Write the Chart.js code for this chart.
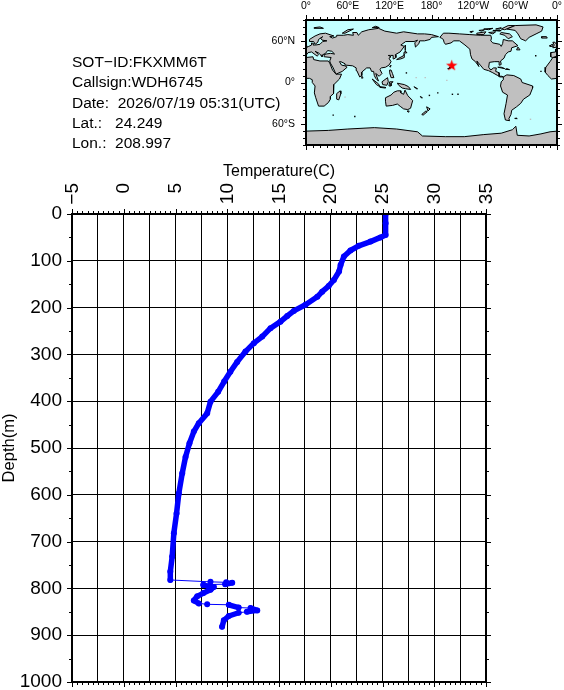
<!DOCTYPE html>
<html>
<head>
<meta charset="utf-8">
<title>Temperature profile</title>
<script src="https://cdn.jsdelivr.net/npm/chart.js@4/dist/chart.umd.min.js"></script>
<style>
  html, body { margin: 0; padding: 0; background: #fff; }
  #page { position: relative; width: 564px; height: 690px; overflow: hidden; }
  canvas { position: absolute; display: block; }
  #station { position: absolute; left: 72px; top: 52px; font: 15.5px/20.3px "Liberation Sans", sans-serif; color: #000; white-space: pre; }
</style>
</head>
<body>
<div id="page">
  <canvas id="profile" width="564" height="690" style="left:0;top:0"></canvas>
  <canvas id="map" width="300" height="160" style="left:264px;top:0"></canvas>
  <div id="station"></div>
</div>
<script>
const stationLines = [
  'SOT\u2212ID:FKXMM6T',
  'Callsign:WDH6745',
  'Date:  2026/07/19 05:31(UTC)',
  'Lat.:   24.249',
  'Lon.:  208.997'
];

// temperature profile, read top to bottom
const depthM = [0, 20, 45, 50, 59, 68, 78, 91, 109, 123, 141, 154, 166, 177, 194, 207, 218, 230, 244, 262, 276, 294, 316, 337, 358, 380, 401, 426, 447, 465, 490, 519, 554, 597, 640, 682, 732, 764, 782, 786, 787, 788, 791, 792, 793, 797, 803, 810, 817, 826, 832, 834, 835, 841, 842, 847, 850, 852, 859, 868, 882];
const temperatureC = [25.3, 25.3, 25.3, 24.8, 23.84, 22.7, 21.9, 21.27, 20.95, 20.8, 20.3, 19.8, 19.17, 18.7, 17.56, 16.43, 15.8, 15.14, 14.18, 13.38, 12.57, 11.76, 10.96, 10.3, 9.7, 9.12, 8.38, 8.06, 7.25, 6.77, 6.35, 5.97, 5.65, 5.32, 5.1, 4.84, 4.68, 4.5, 4.5, 8.38, 9.9, 10.48, 9.8, 7.7, 7.7, 8.7, 8.38, 7.7, 7.1, 6.77, 7.25, 8.06, 10.15, 11.1, 12.25, 12.9, 11.9, 11.1, 10.15, 9.67, 9.5];

const floatLon = [208.997];
const floatLat = [24.249];

// coastlines as [lon, lat], longitude running 0-360
const eurasia = [[0,50],[4,52],[8,54],[8,57],[11,56],[10,54],[14,54],[20,55],[24,59],[30,60],[23,61],[21,64],[24,66],[18,62],[17,58],[13,55],[11,59],[5,59],[5,62],[13,67],[20,70],[28,71],[40,67],[34,66],[38,64],[44,66],[44,68],[54,68],[60,69],[68,68],[67,72],[73,72],[75,68],[80,73],[90,76],[104,78],[113,74],[130,71],[140,73],[160,70],[170,70],[180,69],[190,66],[180,65],[178,62],[170,60],[163,60],[162,56],[157,51],[156,57],[160,61],[155,59],[143,59],[136,54],[141,52],[135,44],[128,40],[129,36],[126,34],[125,39],[121,39],[118,39],[122,37],[119,35],[122,30],[119,25],[114,22],[108,21],[106,19],[109,13],[105,9],[100,13],[104,2],[100,6],[98,10],[97,16],[94,16],[92,21],[87,21],[80,15],[80,10],[77,8],[73,17],[72,21],[67,24],[57,25],[56,27],[50,30],[48,30],[51,25],[56,24],[59,22],[52,16],[43,12],[39,21],[35,28],[34,31],[36,36],[27,37],[26,40],[29,41],[35,42],[41,41],[37,45],[31,46],[28,42],[24,40],[23,37],[19,42],[13,45],[18,40],[16,38],[8,44],[3,43],[0,39]];
const iberia = [[360,50],[358,48],[358,44],[351,43],[351,37],[354,36],[360,38]];
const africaEast = [[0,36],[10,37],[11,33],[20,31],[32,31],[34,28],[38,18],[43,12],[51,12],[48,5],[40,-3],[39,-10],[40,-16],[35,-20],[35,-24],[32,-29],[26,-34],[18,-34],[14,-22],[12,-15],[13,-5],[9,0],[9,4],[5,6],[0,6]];
const africaWest = [[360,36],[354,36],[350,30],[344,22],[343,15],[347,10],[352,5],[360,6]];
const northAmerica = [[192,65],[197,71],[205,71],[220,70],[235,69],[250,68],[265,68],[266,64],[265,60],[268,57],[278,55],[280,52],[282,56],[283,62],[290,60],[296,60],[304,53],[295,50],[294,45],[290,44],[286,40],[284,35],[279,31],[280,26],[278,25],[277,30],[270,30],[263,29],[262,22],[265,18],[269,21],[273,21],[272,16],[277,14],[277,9],[281,9],[283,8],[278,8],[275,10],[268,14],[262,17],[255,19],[250,25],[245,31],[248,23],[243,30],[238,34],[236,40],[235,48],[228,54],[220,60],[212,60],[208,57],[200,55],[198,58],[197,62],[194,64]];
const southAmerica = [[283,8],[288,11],[298,10],[308,5],[310,0],[325,-5],[325,-8],[321,-18],[312,-24],[308,-30],[302,-35],[295,-40],[294,-46],[291,-52],[292,-55],[286,-54],[284,-45],[287,-30],[289,-18],[282,-14],[279,-5],[280,1],[283,4]];
const greenland = [[288,77],[300,82],[330,83],[340,80],[338,74],[330,70],[320,65],[315,60],[308,63],[304,70],[300,75]];
const australia = [[114,-22],[122,-18],[126,-14],[131,-12],[136,-12],[136,-15],[140,-17],[142,-11],[146,-19],[153,-26],[150,-37],[146,-39],[140,-38],[136,-35],[131,-31],[124,-33],[115,-34],[114,-27]];
const antarctica = [[0,-70],[32,-69],[60,-67],[98,-65],[130,-67],[160,-71],[167,-77],[200,-78],[227,-78],[255,-75],[280,-73],[296,-68],[301,-63],[303,-76],[320,-77],[337,-74],[350,-71],[360,-70],[360,-90],[0,-90]];
const islands = [
  [[354,50],[360,51],[360,54],[357,58],[354,58],[356,54],[355,52]],
  [[0,51],[2,52],[0,54]],
  [[350,52],[354,52],[354,55],[351,54]],
  [[338,64],[346,64],[345,66],[338,66]],
  [[12,78],[25,78],[20,80],[12,79]],
  [[52,71],[56,71],[68,77],[60,76]],
  [[95,79],[105,79],[100,81]],
  [[44,-16],[49,-12],[50,-16],[47,-25],[44,-24]],
  [[80,9],[82,7],[80,6]],
  [[130,33],[136,34],[141,36],[141,41],[139,38],[133,35]],
  [[140,42],[145,43],[142,45]],
  [[142,46],[143,50],[142,54]],
  [[120,23],[122,25],[121,22]],
  [[120,18],[122,18],[124,13],[126,7],[122,7],[120,14]],
  [[109,1],[117,7],[118,1],[116,-4],[110,-3]],
  [[95,5],[104,-2],[106,-6],[101,-3]],
  [[106,-6],[114,-7],[114,-8],[106,-7]],
  [[120,1],[125,1],[122,-1],[122,-5],[119,-5]],
  [[131,-1],[141,-3],[147,-6],[150,-10],[143,-9],[138,-8],[133,-4]],
  [[145,-41],[148,-41],[147,-43]],
  [[173,-35],[178,-38],[175,-41],[174,-38]],
  [[172,-41],[174,-42],[168,-47],[166,-46]],
  [[155,-6],[160,-9],[158,-9]],
  [[164,-20],[167,-22],[165,-22]],
  [[280,72],[292,70],[296,66],[290,63],[285,68],[278,70]],
  [[245,71],[258,73],[255,69],[245,69]],
  [[280,77],[290,82],[300,82],[285,76]],
  [[235,73],[240,74],[238,72]],
  [[268,75],[280,75],[278,74]],
  [[255,77],[268,78],[262,76]],
  [[262,72],[272,73],[268,70]],
  [[248,75],[256,76],[252,74]],
  [[272,77],[280,79],[278,77]],
  [[302,47],[307,47],[304,51]],
  [[275,22],[285,20],[280,22]],
  [[286,19],[292,18.5],[288,20]],
  [[300,-52],[303,-52],[301,-51]]
];
const lakes = [
  [[47,45],[53,45],[54,38],[50,37],[49,41]],
  [[272,42],[276,46],[280,44],[278,42],[274,44]]
];

// tiny atolls drawn as single dots
const blackIslets = [[144,13.8],[177,-18.6],[189,-15],[210,-17],[218,-17],[39,-47],[70,-49],[204,20],[329.5,38.6],[337,16],[206,21]];
const grayIslets = [[158,7],[171,7],[202,3],[56,-21],[322,-53]];

const xTickValues = [-5, 0, 5, 10, 15, 20, 25, 30, 35];
const lonLabels = { 0: '0\u00b0', 60: '60\u00b0E', 120: '120\u00b0E', 180: '180\u00b0', 240: '120\u00b0W', 300: '60\u00b0W', 360: '0\u00b0' };
const latLabels = { 60: '60\u00b0N', 0: '0\u00b0', '-60': '60\u00b0S' };

const FONT = '"Liberation Sans", Arial, sans-serif';
document.getElementById('station').textContent = stationLines.join('\n');

const multipleOf = (v, step) => Math.abs(v / step - Math.round(v / step)) < 1e-6;

// labels hanging over the plot edges should not shrink the plot
const noOverhang = s => {
  s.paddingLeft = s.paddingRight = s.paddingTop = s.paddingBottom = 0;
};

// GMT style frame: outward ticks on all four sides plus a heavy border
const frameTicks = {
  id: 'frameTicks',
  afterDraw(chart, args, opts) {
    const { ctx, chartArea: a, scales } = chart;
    ctx.save();
    ctx.strokeStyle = '#000';
    ctx.lineWidth = 1;
    ctx.beginPath();
    scales.x.ticks.forEach(t => {
      const px = Math.round(scales.x.getPixelForValue(t.value)) + 0.5;
      const len = multipleOf(t.value, opts.xMajor) ? opts.majorLen : opts.minorLen;
      ctx.moveTo(px, a.top); ctx.lineTo(px, a.top - len);
      ctx.moveTo(px, a.bottom); ctx.lineTo(px, a.bottom + len);
    });
    scales.y.ticks.forEach(t => {
      const py = Math.round(scales.y.getPixelForValue(t.value)) + 0.5;
      const len = multipleOf(t.value, opts.yMajor) ? opts.majorLen : opts.minorLen;
      ctx.moveTo(a.left, py); ctx.lineTo(a.left - len, py);
      ctx.moveTo(a.right, py); ctx.lineTo(a.right + len, py);
    });
    ctx.stroke();
    ctx.lineWidth = opts.frameWidth;
    ctx.strokeRect(a.left, a.top, a.right - a.left, a.bottom - a.top);
    ctx.restore();
  }
};

// top labels read upward and line up on their far end
const rotatedTopLabels = {
  id: 'rotatedTopLabels',
  afterDraw(chart) {
    const { ctx, scales } = chart;
    ctx.save();
    ctx.font = '19px ' + FONT;
    ctx.fillStyle = '#000';
    ctx.textAlign = 'right';
    ctx.textBaseline = 'middle';
    xTickValues.forEach(v => {
      ctx.save();
      ctx.translate(scales.x.getPixelForValue(v) + 0.5, 183);
      ctx.rotate(-Math.PI / 2);
      ctx.fillText(String(v).replace('-', '\u2212'), 0, 0);
      ctx.restore();
    });
    ctx.restore();
  }
};

new Chart(document.getElementById('profile'), {
  type: 'scatter',
  data: {
    datasets: [{
      data: depthM.map((d, i) => ({ x: temperatureC[i], y: d })),
      showLine: true,
      borderColor: '#0000ff',
      backgroundColor: '#0000ff',
      borderWidth: 5.5,
      borderJoinStyle: 'round',
      borderCapStyle: 'round',
      pointRadius: 3,
      pointBorderWidth: 0,
      pointHoverRadius: 3,
      tension: 0,
      segment: {
        // the jumps near the bottom show only as hairlines
        borderWidth: c => Math.abs(c.p1.parsed.x - c.p0.parsed.x) / Math.max(Math.abs(c.p1.parsed.y - c.p0.parsed.y), 0.01) > 0.4 ? 1 : 5.5
      }
    }]
  },
  plugins: [frameTicks, rotatedTopLabels],
  options: {
    responsive: false,
    animation: false,
    layout: { padding: { right: 78, bottom: 8 } },
    plugins: {
      legend: { display: false },
      tooltip: { enabled: false },
      frameTicks: { xMajor: 5, yMajor: 100, majorLen: 5, minorLen: 3, frameWidth: 2 }
    },
    scales: {
      x: {
        type: 'linear',
        position: 'top',
        min: -5,
        max: 35,
        afterFit: s => { s.height = 214; noOverhang(s); },
        ticks: { stepSize: 0.5, display: false, autoSkip: false },
        grid: {
          drawTicks: false,
          lineWidth: 1,
          color: c => multipleOf(c.tick.value, 2.5) ? '#000' : 'rgba(0,0,0,0)'
        },
        border: { display: false },
        title: { display: true, text: 'Temperature(C)', color: '#000', font: { family: FONT, size: 16 }, padding: { top: 162, bottom: 0 } }
      },
      y: {
        type: 'linear',
        reverse: true,
        min: 0,
        max: 1000,
        afterFit: s => { s.width = 72; noOverhang(s); },
        ticks: {
          stepSize: 50,
          autoSkip: false,
          padding: 10,
          color: '#000',
          font: { family: FONT, size: 19 },
          callback: v => multipleOf(v, 100) ? String(v) : ''
        },
        grid: {
          drawTicks: false,
          lineWidth: 1,
          color: c => multipleOf(c.tick.value, 100) ? '#000' : 'rgba(0,0,0,0)'
        },
        border: { display: false },
        title: { display: true, text: 'Depth(m)', color: '#000', font: { family: FONT, size: 16.5 }, padding: 0 }
      }
    }
  }
});

// red star marker
const starIcon = document.createElement('canvas');
starIcon.width = starIcon.height = 13;
(function () {
  const s = starIcon.getContext('2d');
  s.fillStyle = '#ff0000';
  s.beginPath();
  for (let i = 0; i < 10; i++) {
    const r = i % 2 ? 2.4 : 6;
    const a = -Math.PI / 2 + i * Math.PI / 5;
    s.lineTo(6.5 + r * Math.cos(a), 6.5 + r * Math.sin(a));
  }
  s.closePath();
  s.fill();
})();

const shape = (coords, fillColor) => ({
  data: coords.concat([coords[0]]).map(c => ({ x: c[0], y: c[1] })),
  showLine: true,
  fill: 'shape',
  backgroundColor: fillColor,
  borderColor: '#000',
  borderWidth: 1,
  pointRadius: 0,
  tension: 0
});
const dots = (coords, color) => ({
  data: coords.map(c => ({ x: c[0], y: c[1] })),
  showLine: false,
  pointStyle: 'rect',
  pointRadius: 1,
  backgroundColor: color,
  borderWidth: 0
});

const LAND = '#c0c0c0';
const SEA = '#c4ffff';
const mapBackdrop = {
  id: 'mapBackdrop',
  beforeDatasetsDraw(chart) {
    const { ctx, chartArea: a } = chart;
    ctx.save();
    ctx.fillStyle = SEA;
    ctx.fillRect(a.left, a.top, a.right - a.left, a.bottom - a.top);
    ctx.restore();
  }
};

new Chart(document.getElementById('map'), {
  type: 'scatter',
  data: {
    datasets: [
      ...[eurasia, iberia, africaEast, africaWest, northAmerica, southAmerica, greenland, australia, antarctica, ...islands].map(c => shape(c, LAND)),
      ...lakes.map(c => shape(c, SEA)),
      dots(blackIslets, '#000'),
      dots(grayIslets, LAND),
      {
        data: floatLon.map((lon, i) => ({ x: lon, y: floatLat[i] })),
        showLine: false,
        pointStyle: starIcon,
        pointRadius: 6
      }
    ]
  },
  plugins: [mapBackdrop, frameTicks],
  options: {
    responsive: false,
    animation: false,
    layout: { padding: { right: 6, bottom: 15 } },
    plugins: {
      legend: { display: false },
      tooltip: { enabled: false },
      frameTicks: { xMajor: 60, yMajor: 60, majorLen: 5, minorLen: 3, frameWidth: 2 }
    },
    scales: {
      x: {
        type: 'linear',
        position: 'top',
        min: 0,
        max: 360,
        afterFit: s => { s.height = 20; noOverhang(s); },
        ticks: {
          stepSize: 10,
          autoSkip: false,
          maxRotation: 0,
          padding: 0,
          color: '#000',
          font: { family: FONT, size: 10.5 },
          callback: v => lonLabels[v] || ''
        },
        grid: { display: false },
        border: { display: false }
      },
      y: {
        type: 'linear',
        min: -90,
        max: 90,
        afterFit: s => { s.width = 42; noOverhang(s); },
        ticks: {
          stepSize: 10,
          autoSkip: false,
          padding: 3,
          color: '#000',
          font: { family: FONT, size: 10.5 },
          callback: v => latLabels[v] || ''
        },
        grid: { display: false },
        border: { display: false }
      }
    }
  }
});
</script>
</body>
</html>
